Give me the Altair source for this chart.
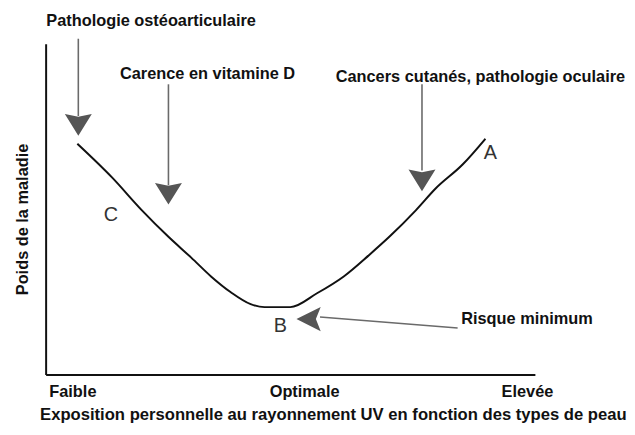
import altair as alt
import pandas as pd

# Curve (x: exposure, y: disease burden)
curve_x = [32, 67, 97, 124, 147, 167, 187, 207, 221, 247, 274, 301, 327, 347, 374, 394, 421, 444]
curve_y = [233, 199, 166, 139, 118, 99, 83, 71, 68, 68, 82, 99, 121, 139, 166, 188, 212, 238]

# x-axis tick labels
tick_values = [27, 261, 486]
tick_labels = ["Faible", "Optimale", "Elevée"]

# annotations
ann_text = ["Pathologie ostéoarticulaire", "Carence en vitamine D",
            "Cancers cutanés, pathologie oculaire", "Risque minimum"]
ann_x = [106.5, 163.5, 439, 486]
ann_y = [357, 303, 300, 56]

letters = ["A", "B", "C"]
letter_x = [449, 237, 66]
letter_y = [224, 49, 161]

# vertical arrows
varrow_x = [33, 124, 380]
varrow_top = [339, 293, 293]
varrow_bottom = [261, 191, 206]
varrow_head = [252, 182.5, 196]

# horizontal arrow (Risque minimum)
harrow_x = [277, 416]
harrow_y = [58, 47]
harrow_head = [265.5, 56]

W, H = 494, 334
FONT = "Liberation Sans"

xs = alt.Scale(domain=[0, W], nice=False, zero=False)
ys = alt.Scale(domain=[0, H], nice=False, zero=False)

label_expr = " : ".join(
    [f"datum.value == {v} ? '{t}'" for v, t in zip(tick_values[:-1], tick_labels[:-1])]
    + [f"'{tick_labels[-1]}'"]
)

curve_df = pd.DataFrame({"x": curve_x, "y": curve_y})

base_x = alt.X("x:Q", scale=xs, axis=alt.Axis(
    values=tick_values, labelExpr=label_expr, ticks=False, grid=False,
    domainColor="#111", domainWidth=2, labelFont=FONT, labelFontSize=16.5,
    labelFontWeight="bold", labelColor="#111", labelPadding=9,
    labelFlush=False, labelOverlap=False, labelBound=False,
    title="Exposition personnelle au rayonnement UV en fonction des types de peau",
    titleFont=FONT, titleFontSize=16.8, titleFontWeight="bold", titleColor="#111",
    titleX=290, titleY=40, titleAlign="center", titleBaseline="middle"))
base_y = alt.Y("y:Q", scale=ys, axis=alt.Axis(
    labels=False, ticks=False, grid=False, values=[],
    domainColor="#111", domainWidth=2,
    title="Poids de la maladie", titleFont=FONT, titleFontSize=16.5,
    titleFontWeight="bold", titleColor="#111",
    titleX=-23, titleY=177, titleAlign="center", titleBaseline="middle", titleAngle=270))

curve = alt.Chart(curve_df).mark_line(color="#111", strokeWidth=2, interpolate="monotone").encode(
    x=base_x, y=base_y)

vdf = pd.DataFrame({"x": varrow_x, "top": varrow_top, "bottom": varrow_bottom, "head": varrow_head})
vstems = alt.Chart(vdf).mark_rule(color="#6a6a6a", strokeWidth=1.6).encode(
    x=alt.X("x:Q", scale=xs), y=alt.Y("top:Q", scale=ys), y2="bottom:Q")
down_shape = "M-1,-0.8 L0,0.8 L1,-0.8 L0,-0.6 Z"
vheads = alt.Chart(vdf).mark_point(shape=down_shape, filled=True, color="#555", size=740, opacity=1).encode(
    x=alt.X("x:Q", scale=xs), y=alt.Y("head:Q", scale=ys))

hdf = pd.DataFrame({"x": [harrow_x[0]], "x2": [harrow_x[1]], "y": [harrow_y[0]], "y2": [harrow_y[1]]})
hstem = alt.Chart(hdf).mark_rule(color="#6a6a6a", strokeWidth=1.6).encode(
    x=alt.X("x:Q", scale=xs), x2="x2:Q", y=alt.Y("y:Q", scale=ys), y2="y2:Q")
left_shape = "M1,-1 L-1,0 L1,1 L0.6,0 Z"
hhead_df = pd.DataFrame({"x": [harrow_head[0]], "y": [harrow_head[1]]})
hhead = alt.Chart(hhead_df).mark_point(shape=left_shape, filled=True, color="#555", size=600, opacity=1).encode(
    x=alt.X("x:Q", scale=xs), y=alt.Y("y:Q", scale=ys))

adf = pd.DataFrame({"x": ann_x, "y": ann_y, "t": ann_text})
ann = alt.Chart(adf).mark_text(font=FONT, fontSize=16.5, fontWeight="bold", color="#111",
                               align="center", baseline="middle").encode(
    x=alt.X("x:Q", scale=xs), y=alt.Y("y:Q", scale=ys), text="t:N")

ldf = pd.DataFrame({"x": letter_x, "y": letter_y, "t": letters})
lett = alt.Chart(ldf).mark_text(font=FONT, fontSize=20, color="#333",
                                align="center", baseline="middle").encode(
    x=alt.X("x:Q", scale=xs), y=alt.Y("y:Q", scale=ys), text="t:N")

chart = alt.layer(curve, vstems, vheads, hstem, hhead, ann, lett).properties(
    width=W, height=H,
    autosize=alt.AutoSizeParams(type="none"),
    padding={"left": 38, "top": 34, "right": 93, "bottom": 51},
    background="white",
).configure_view(stroke=None)

chart.save("out.html", embed_options={"renderer": "svg", "actions": False})
